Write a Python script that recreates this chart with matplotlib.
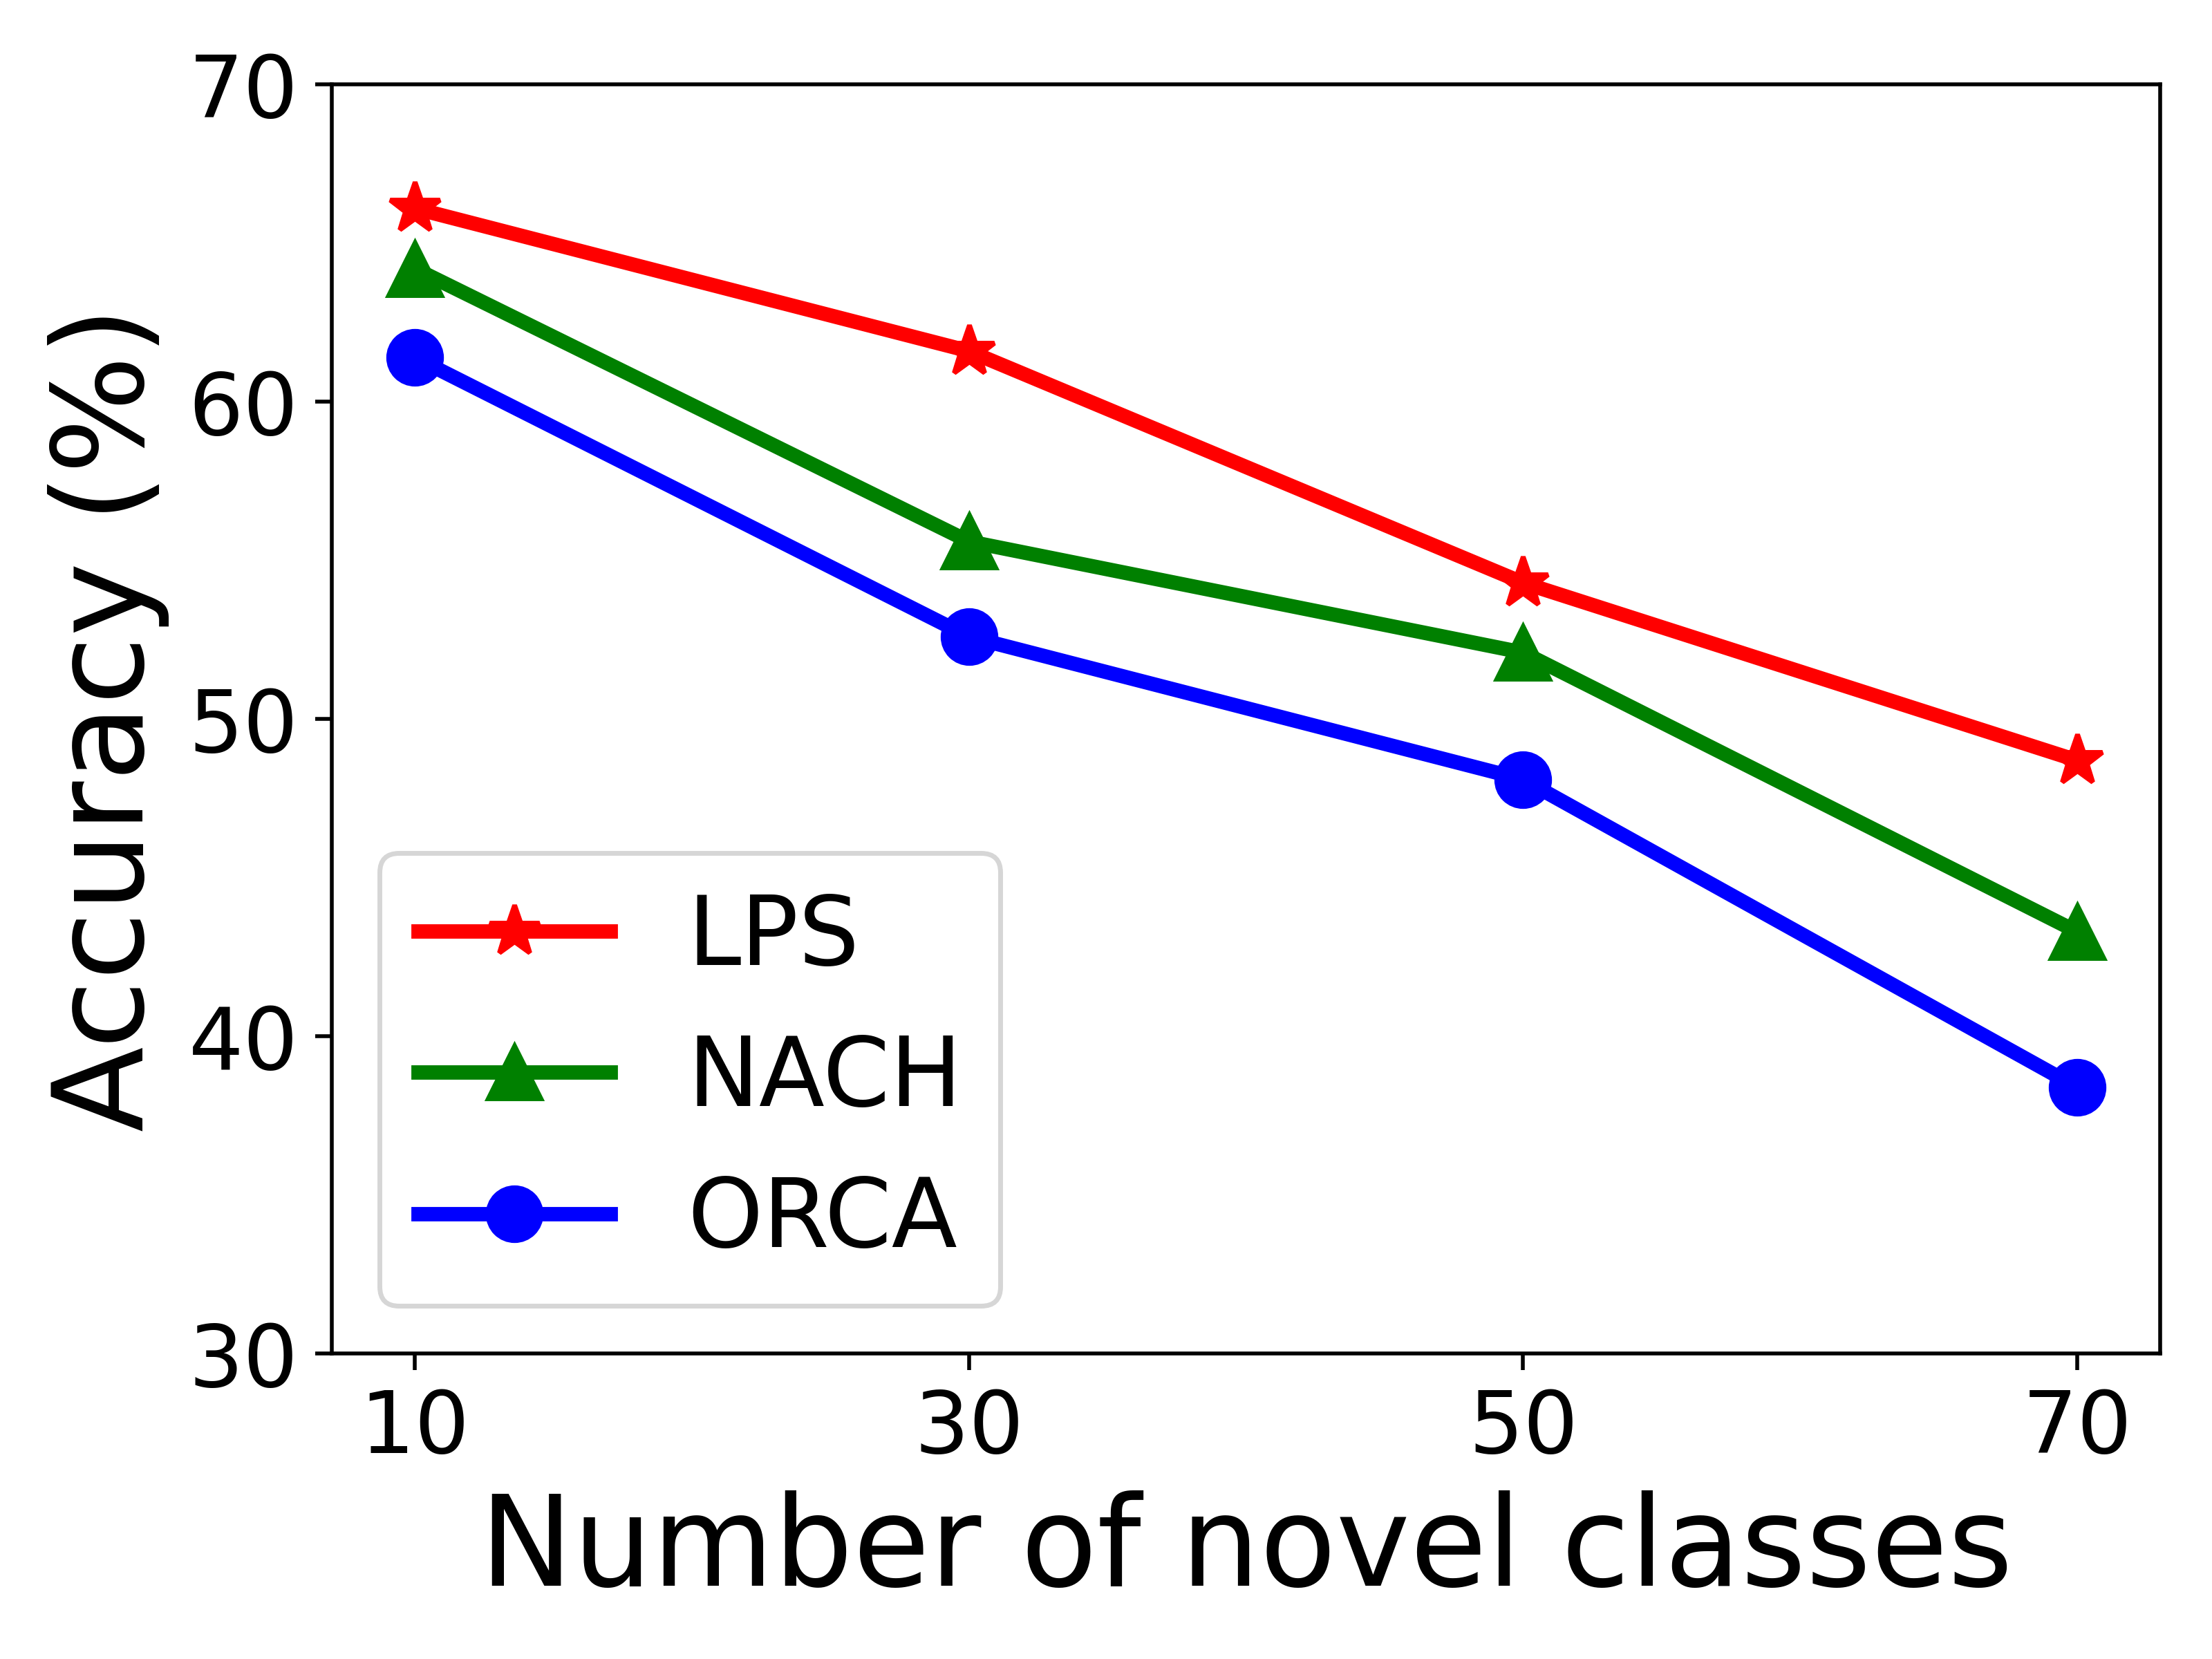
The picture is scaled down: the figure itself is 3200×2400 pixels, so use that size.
import matplotlib
matplotlib.use("Agg")
import matplotlib.pyplot as plt

x_vals = [10, 30, 50, 70]
lps = [66.1, 61.6, 54.3, 48.7]
nach = [64.2, 55.6, 52.1, 43.3]
orca = [61.4, 52.6, 48.1, 38.4]
series_labels = ["LPS", "NACH", "ORCA"]
y_ticks = [30, 40, 50, 60, 70]

fig = plt.figure(figsize=(6.4, 4.8), dpi=500)
ax = fig.add_axes([0.15, 0.184, 0.8266, 0.765])

ax.plot(x_vals, lps, color="red", marker="*", linewidth=3, markersize=11, label=series_labels[0])
ax.plot(x_vals, nach, color="green", marker="^", linewidth=3, markersize=11, label=series_labels[1])
ax.plot(x_vals, orca, color="blue", marker="o", linewidth=3, markersize=11, label=series_labels[2])

ax.set_ylim(30, 70)
ax.set_yticks(y_ticks)
ax.set_xticks(x_vals)
ax.tick_params(labelsize=18)
ax.set_xlabel("Number of novel classes", fontsize=26)
ax.set_ylabel("Accuracy (%)", fontsize=26)
ax.legend(loc="lower left", fontsize=20)

fig.savefig("out.png", dpi=500)
